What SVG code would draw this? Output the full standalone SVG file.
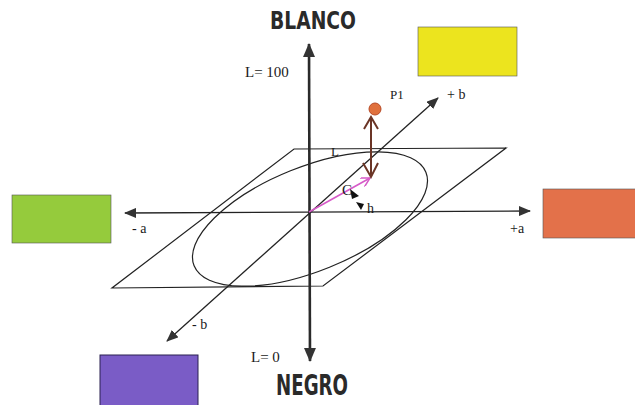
<svg xmlns="http://www.w3.org/2000/svg" width="635" height="405" viewBox="0 0 635 405">
<style>
.ax{stroke:#222;stroke-width:1.3;fill:none}
.axL{stroke:#2a2a2a;stroke-width:2.6;fill:none}
.thin{stroke:#222;stroke-width:1.2;fill:none}
.lbl{font-family:"Liberation Serif","Times New Roman",serif;fill:#1a1a1a}
.big{font-family:"DejaVu Sans Condensed","DejaVu Sans",sans-serif;font-weight:bold;fill:#2a2a2a}
.sw{stroke:#555;stroke-width:0.6}
</style>
<defs>
<marker id="ah" viewBox="0 0 12 10" refX="11" refY="5" markerWidth="12" markerHeight="10" markerUnits="userSpaceOnUse" orient="auto-start-reverse">
<path d="M0,0 L12,5 L0,10 Z" fill="#333"/>
</marker>
<marker id="ahL" viewBox="0 0 14 12" refX="13" refY="6" markerWidth="14" markerHeight="12" markerUnits="userSpaceOnUse" orient="auto-start-reverse">
<path d="M0,0 L14,6 L0,12 Z" fill="#333"/>
</marker>
<marker id="ahM" viewBox="0 0 10 10" refX="9" refY="5" markerWidth="10" markerHeight="10" markerUnits="userSpaceOnUse" orient="auto">
<path d="M0,0 L9,5 L0,10" fill="none" stroke="#d65ac8" stroke-width="1.5"/>
</marker>
</defs>

<g id="plane">
<polygon class="thin" points="294,149 506,148 323,286 112,288"/>
<ellipse class="thin" cx="310" cy="219" rx="125" ry="52" transform="rotate(-22 310 219)"/>
</g>

<g id="connectors">
<line class="axL" x1="309" y1="44" x2="310" y2="361" marker-start="url(#ahL)" marker-end="url(#ahL)"/>
<line class="ax" x1="125" y1="213" x2="530" y2="211" marker-start="url(#ah)" marker-end="url(#ah)"/>
<line class="ax" x1="167" y1="341" x2="438" y2="98" marker-start="url(#ah)" marker-end="url(#ah)"/>
<line x1="309" y1="212" x2="370" y2="178" stroke="#d65ac8" stroke-width="1.6" marker-end="url(#ahM)"/>
<g stroke="#6b3526" stroke-width="2" fill="none">
<line x1="371" y1="117" x2="371" y2="176"/>
<path d="M364,129 L371,117 L378,129"/>
<path d="M363,163 L371,177 L378,163"/>
</g>
<path d="M350,189 L359,196 L352,199 Z" fill="#111"/>
<path d="M356,202 L364,204 L361,210 Z" fill="#111"/>
</g>

<g id="p1">
<circle cx="375" cy="109" r="6" fill="#e0703c" stroke="#b84a26" stroke-width="1"/>
<text class="lbl" x="390" y="99" font-size="13">P1</text>
</g>

<g id="labels">
<text class="big" x="313" y="29" font-size="25" text-anchor="middle" textLength="86" lengthAdjust="spacingAndGlyphs">BLANCO</text>
<text class="big" x="312" y="395" font-size="28" text-anchor="middle" textLength="72" lengthAdjust="spacingAndGlyphs">NEGRO</text>
<text class="lbl" x="245" y="77" font-size="15">L= 100</text>
<text class="lbl" x="251" y="362" font-size="15">L= 0</text>
<text class="lbl" x="447" y="99" font-size="14">+ b</text>
<text class="lbl" x="192" y="329" font-size="14">- b</text>
<text class="lbl" x="132" y="233" font-size="14">- a</text>
<text class="lbl" x="510" y="233" font-size="14">+a</text>
<text class="lbl" x="331" y="156" font-size="13">L</text>
<text class="lbl" x="342" y="195" font-size="15">C</text>
<text class="lbl" x="367" y="213" font-size="14">h</text>
</g>

<g id="yellow"><rect class="sw" x="418" y="27" width="99" height="49" fill="#ece41e"/></g>
<g id="green"><rect class="sw" x="12" y="195" width="99" height="48" fill="#95cb3c"/></g>
<g id="orange"><rect class="sw" x="543" y="189" width="95" height="49" fill="#e3714a"/></g>
<g id="purple"><rect x="100" y="355" width="98" height="52" fill="#7a5cc6" stroke="#2a2050" stroke-width="1"/></g>
</svg>
